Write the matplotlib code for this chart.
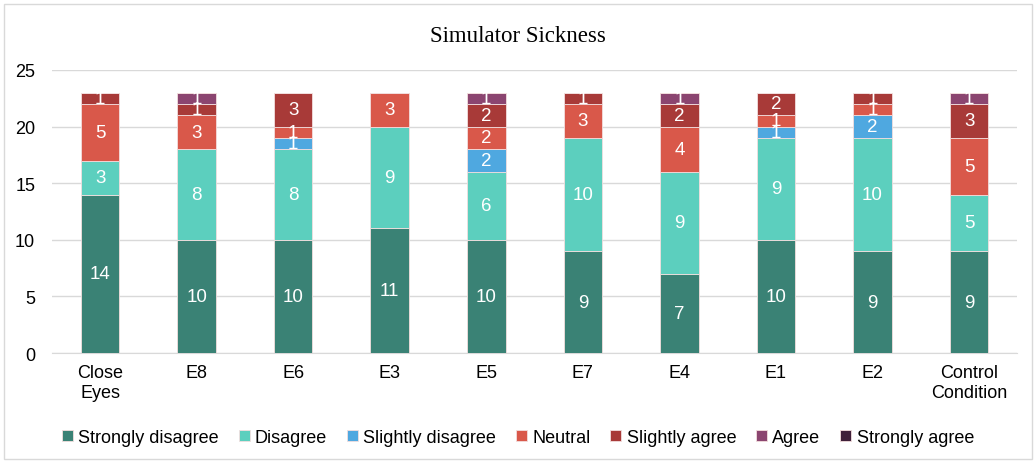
import matplotlib.pyplot as plt
import matplotlib.patches as mpatches
import numpy as np

conditions = ['Close\nEyes', 'E8', 'E6', 'E3', 'E5', 'E7', 'E4', 'E1', 'E2', 'Control\nCondition']
levels = ['Strongly disagree', 'Disagree', 'Slightly disagree', 'Neutral',
          'Slightly agree', 'Agree', 'Strongly agree']

strongly_disagree = [14, 10, 10, 11, 10, 9, 7, 10, 9, 9]
disagree = [3, 8, 8, 9, 6, 10, 9, 9, 10, 5]
slightly_disagree = [0, 0, 1, 0, 2, 0, 0, 1, 2, 0]
neutral = [5, 3, 1, 3, 2, 3, 4, 1, 1, 5]
slightly_agree = [1, 1, 3, 0, 2, 1, 2, 2, 1, 3]
agree = [0, 1, 0, 0, 1, 0, 1, 0, 0, 1]
strongly_agree = [0, 0, 0, 0, 0, 0, 0, 0, 0, 0]

series = [strongly_disagree, disagree, slightly_disagree, neutral,
          slightly_agree, agree, strongly_agree]
colors = ['#3a8275', '#5ccfbe', '#4fa8e0', '#d9584a', '#a83a38', '#8b4570', '#40203a']

plt.rcParams['font.family'] = ['Liberation Sans', 'DejaVu Sans']

fig = plt.figure(figsize=(10.36, 4.64), dpi=100)
ax = fig.add_axes([0.05, 0.237, 0.932, 0.61])

x = np.arange(len(conditions))
bottom = np.zeros(len(conditions))
for name, vals, c in zip(levels, series, colors):
    vals = np.array(vals)
    bars = ax.bar(x, vals, 0.4, bottom=bottom, color=c, label=name,
                  edgecolor='#f3dede', linewidth=0.6, zorder=3)
    for b, v, y0 in zip(bars, vals, bottom):
        if v > 0:
            ax.text(b.get_x() + b.get_width() / 2, y0 + v / 2, str(v),
                    ha='center', va='center', color='white', fontsize=13.5, zorder=4)
    bottom += vals

ax.set_xlim(-0.5, len(conditions) - 0.5)
ax.set_ylim(0, 25)
ax.set_yticks(range(0, 26, 5))
ax.set_xticks(x)
ax.set_xticklabels(conditions)
ax.tick_params(axis='both', length=0, labelsize=13, colors='black')
ax.tick_params(axis='y', pad=12)
ax.tick_params(axis='x', pad=8)
ax.yaxis.grid(True, color='#d9d9d9', linewidth=1, zorder=0)
for s in ['top', 'right', 'left']:
    ax.spines[s].set_visible(False)
ax.spines['bottom'].set_color('#d9d9d9')

fig.text(0.5, 0.922, 'Simulator Sickness', ha='center', va='center',
         fontsize=16.5, family='Liberation Serif')

fig.legend(loc='center', bbox_to_anchor=(0.5, 0.055), ncol=7, frameon=False,
           fontsize=13, handlelength=0.6, handleheight=0.6, handletextpad=0.3,
           columnspacing=1.1)

fig.patches.append(mpatches.Rectangle((0.004, 0.008), 0.992, 0.982, transform=fig.transFigure,
                                      fill=False, edgecolor='#d9d9d9', linewidth=1))

fig.savefig('out.png', dpi=100)
